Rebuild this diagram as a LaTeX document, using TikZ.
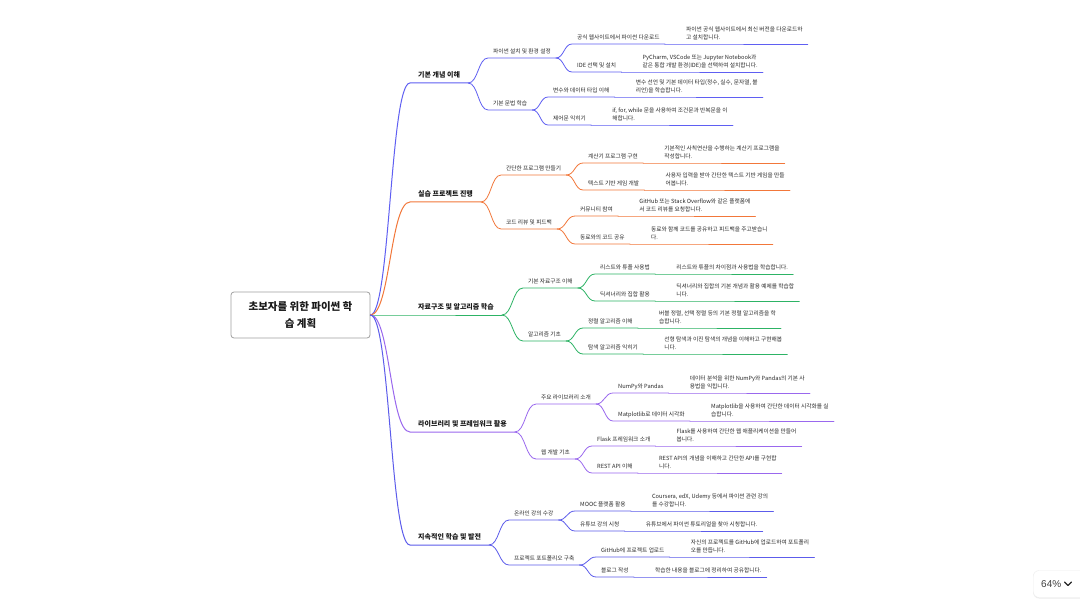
\documentclass[tikz,border=0pt]{standalone}
\usepackage{fontspec}
\setmainfont{Noto Sans CJK KR}
\newfontfamily\uifont{Liberation Sans}
\usepackage{xcolor}
\usepackage{tikz}
\usetikzlibrary{calc,shadows}

\definecolor{bluebr}{HTML}{5F5FF2}
\definecolor{orangebr}{HTML}{F2773A}
\definecolor{greenbr}{HTML}{2DB365}
\definecolor{purplebr}{HTML}{9A68EE}
\definecolor{indigobr}{HTML}{5C5CEB}
\definecolor{textgray}{HTML}{2A2A2A}

\begin{document}
\begin{tikzpicture}[x=1pt,y=-1pt,
	rootbox/.style={draw=gray!75, line width=0.8pt, rounded corners=3pt, fill=white, align=center, minimum width=139pt, minimum height=46pt, font=\fontsize{10.5}{17}\selectfont\bfseries, text=black!90},
	topic/.style={anchor=south west, inner xsep=8pt, inner ysep=4pt, text depth=1.2pt, font=\fontsize{7}{8}\selectfont\bfseries, text=black!90},
	subtopic/.style={anchor=south west, inner xsep=5pt, inner ysep=3.5pt, text depth=1pt, font=\fontsize{5.7}{7}\selectfont, text=textgray},
	leaf/.style={anchor=south west, inner xsep=5pt, inner ysep=3pt, text depth=1pt, align=left, font=\fontsize{5.7}{8.6}\selectfont, text=textgray},
	link/.style={line width=0.8pt, line cap=round}]
				\fill [white] (0,0) rectangle (1080,607);
				\useasboundingbox (0,0) rectangle (1080,607);
				
				\node [rootbox] (root) at (300.5,315) {초보자를 위한 파이썬 학\\습 계획};
				
				% main topics
				\node [topic] (n1) at (410,83) {기본 개념 이해};
				\node [topic] (n2) at (410,202) {실습 프로젝트 진행};
				\node [topic] (n3) at (410,315) {자료구조 및 알고리즘 학습};
				\node [topic] (n4) at (410,432) {라이브러리 및 프레임워크 활용};
				\node [topic] (n5) at (410,545) {지속적인 학습 및 발전};
				
				\node [subtopic] (n1a) at (488,58) {파이썬 설치 및 환경 설정};
				\node [subtopic] (n1b) at (488,110) {기본 문법 학습};
				\node [subtopic] (n2a) at (501,175) {간단한 프로그램 만들기};
				\node [subtopic] (n2b) at (501,229) {코드 리뷰 및 피드백};
				\node [subtopic] (n3a) at (523,288) {기본 자료구조 이해};
				\node [subtopic] (n3b) at (523,341) {알고리즘 기초};
				\node [subtopic] (n4a) at (536,404) {주요 라이브러리 소개};
				\node [subtopic] (n4b) at (536,459) {웹 개발 기초};
				\node [subtopic] (n5a) at (509,520) {온라인 강의 수강};
				\node [subtopic] (n5b) at (509,565) {프로젝트 포트폴리오 구축};
				
				\node [subtopic] (n1a1) at (572,44) {공식 웹사이트에서 파이썬 다운로드};
				\node [subtopic] (n1a2) at (572,72) {IDE 선택 및 설치};
				\node [subtopic] (n1b1) at (548,97) {변수와 데이터 타입 이해};
				\node [subtopic] (n1b2) at (548,125) {제어문 익히기};
				\node [subtopic] (n2a1) at (583,163) {계산기 프로그램 구현};
				\node [subtopic] (n2a2) at (583,190) {텍스트 기반 게임 개발};
				\node [subtopic] (n2b1) at (575,216) {커뮤니티 참여};
				\node [subtopic] (n2b2) at (575,244) {동료와의 코드 공유};
				\node [subtopic] (n3a1) at (595,274) {리스트와 튜플 사용법};
				\node [subtopic] (n3a2) at (595,301) {딕셔너리와 집합 활용};
				\node [subtopic] (n3b1) at (583,328) {정렬 알고리즘 이해};
				\node [subtopic] (n3b2) at (583,354) {탐색 알고리즘 익히기};
				\node [subtopic] (n4a1) at (613,393) {NumPy와 Pandas};
				\node [subtopic] (n4a2) at (613,421) {Matplotlib로 데이터 시각화};
				\node [subtopic] (n4b1) at (592,446) {Flask 프레임워크 소개};
				\node [subtopic] (n4b2) at (592,473) {REST API 이해};
				\node [subtopic] (n5a1) at (575,511) {MOOC 플랫폼 활용};
				\node [subtopic] (n5a2) at (575,531) {유튜브 강의 시청};
				\node [subtopic] (n5b1) at (596,557) {GitHub에 프로젝트 업로드};
				\node [subtopic] (n5b2) at (596,577) {블로그 작성};
				
				% details
				\node [leaf] (l1a1) at ([xshift=16pt]n1a1.south east) {파이썬 공식 웹사이트에서 최신 버전을 다운로드하\\고 설치합니다.};
				\node [leaf] (l1a2) at ([xshift=16pt]n1a2.south east) {PyCharm, VSCode 또는 Jupyter Notebook과\\같은 통합 개발 환경(IDE)을 선택하여 설치합니다.};
				\node [leaf] (l1b1) at ([xshift=16pt]n1b1.south east) {변수 선언 및 기본 데이터 타입(정수, 실수, 문자열, 불\\리언)을 학습합니다.};
				\node [leaf] (l1b2) at ([xshift=16pt]n1b2.south east) {if, for, while 문을 사용하여 조건문과 반복문을 이\\해합니다.};
				\node [leaf] (l2a1) at ([xshift=16pt]n2a1.south east) {기본적인 사칙연산을 수행하는 계산기 프로그램을\\작성합니다.};
				\node [leaf] (l2a2) at ([xshift=16pt]n2a2.south east) {사용자 입력을 받아 간단한 텍스트 기반 게임을 만들\\어봅니다.};
				\node [leaf] (l2b1) at ([xshift=16pt]n2b1.south east) {GitHub 또는 Stack Overflow와 같은 플랫폼에\\서 코드 리뷰를 요청합니다.};
				\node [leaf] (l2b2) at ([xshift=16pt]n2b2.south east) {동료와 함께 코드를 공유하고 피드백을 주고받습니\\다.};
				\node [leaf] (l3a1) at ([xshift=16pt]n3a1.south east) {리스트와 튜플의 차이점과 사용법을 학습합니다.};
				\node [leaf] (l3a2) at ([xshift=16pt]n3a2.south east) {딕셔너리와 집합의 기본 개념과 활용 예제를 학습합\\니다.};
				\node [leaf] (l3b1) at ([xshift=16pt]n3b1.south east) {버블 정렬, 선택 정렬 등의 기본 정렬 알고리즘을 학\\습합니다.};
				\node [leaf] (l3b2) at ([xshift=16pt]n3b2.south east) {선형 탐색과 이진 탐색의 개념을 이해하고 구현해봅\\니다.};
				\node [leaf] (l4a1) at ([xshift=16pt]n4a1.south east) {데이터 분석을 위한 NumPy와 Pandas의 기본 사\\용법을 익힙니다.};
				\node [leaf] (l4a2) at ([xshift=16pt]n4a2.south east) {Matplotlib을 사용하여 간단한 데이터 시각화를 실\\습합니다.};
				\node [leaf] (l4b1) at ([xshift=16pt]n4b1.south east) {Flask를 사용하여 간단한 웹 애플리케이션을 만들어\\봅니다.};
				\node [leaf] (l4b2) at ([xshift=16pt]n4b2.south east) {REST API의 개념을 이해하고 간단한 API를 구현합\\니다.};
				\node [leaf] (l5a1) at ([xshift=16pt]n5a1.south east) {Coursera, edX, Udemy 등에서 파이썬 관련 강의\\를 수강합니다.};
				\node [leaf] (l5a2) at ([xshift=16pt]n5a2.south east) {유튜브에서 파이썬 튜토리얼을 찾아 시청합니다.};
				\node [leaf] (l5b1) at ([xshift=16pt]n5b1.south east) {자신의 프로젝트를 GitHub에 업로드하여 포트폴리\\오를 만듭니다.};
				\node [leaf] (l5b2) at ([xshift=16pt]n5b2.south east) {학습한 내용을 블로그에 정리하여 공유합니다.};
				
				% links from the root
				\foreach \dst/\col in {n1/bluebr, n2/orangebr, n3/greenbr, n4/purplebr, n5/indigobr}
					\draw [link, \col, line width=1pt] let \p1=(root.east), \p2=(\dst.south west) in (\p1) .. controls ({(\x1+\x2)/2},\y1) and ({(\x1+\x2)/2},\y2) .. (\p2) -- (\dst.south east);
				
				\foreach \src/\dst in {n1/n1a, n1/n1b, n1a/n1a1, n1a/n1a2, n1b/n1b1, n1b/n1b2, n1a1/l1a1, n1a2/l1a2, n1b1/l1b1, n1b2/l1b2}
					\draw [link, bluebr] let \p1=(\src.south east), \p2=(\dst.south west) in (\p1) .. controls ({(\x1+\x2)/2},\y1) and ({(\x1+\x2)/2},\y2) .. (\p2) -- (\dst.south east);
				\foreach \src/\dst in {n2/n2a, n2/n2b, n2a/n2a1, n2a/n2a2, n2b/n2b1, n2b/n2b2, n2a1/l2a1, n2a2/l2a2, n2b1/l2b1, n2b2/l2b2}
					\draw [link, orangebr] let \p1=(\src.south east), \p2=(\dst.south west) in (\p1) .. controls ({(\x1+\x2)/2},\y1) and ({(\x1+\x2)/2},\y2) .. (\p2) -- (\dst.south east);
				\foreach \src/\dst in {n3/n3a, n3/n3b, n3a/n3a1, n3a/n3a2, n3b/n3b1, n3b/n3b2, n3a1/l3a1, n3a2/l3a2, n3b1/l3b1, n3b2/l3b2}
					\draw [link, greenbr] let \p1=(\src.south east), \p2=(\dst.south west) in (\p1) .. controls ({(\x1+\x2)/2},\y1) and ({(\x1+\x2)/2},\y2) .. (\p2) -- (\dst.south east);
				\foreach \src/\dst in {n4/n4a, n4/n4b, n4a/n4a1, n4a/n4a2, n4b/n4b1, n4b/n4b2, n4a1/l4a1, n4a2/l4a2, n4b1/l4b1, n4b2/l4b2}
					\draw [link, purplebr] let \p1=(\src.south east), \p2=(\dst.south west) in (\p1) .. controls ({(\x1+\x2)/2},\y1) and ({(\x1+\x2)/2},\y2) .. (\p2) -- (\dst.south east);
				\foreach \src/\dst in {n5/n5a, n5/n5b, n5a/n5a1, n5a/n5a2, n5b/n5b1, n5b/n5b2, n5a1/l5a1, n5a2/l5a2, n5b1/l5b1, n5b2/l5b2}
					\draw [link, indigobr] let \p1=(\src.south east), \p2=(\dst.south west) in (\p1) .. controls ({(\x1+\x2)/2},\y1) and ({(\x1+\x2)/2},\y2) .. (\p2) -- (\dst.south east);
				
				% zoom indicator
				\node [draw=black!7, fill=white, rounded corners=6pt, drop shadow={opacity=0.15, shadow xshift=0pt, shadow yshift=-1pt}, minimum width=60pt, minimum height=27pt, anchor=west, inner xsep=8pt, font=\uifont\fontsize{10}{12}\selectfont, text=black!75, text width=44pt] (zoombox) at (1033,584) {64\%};
				\draw [black!85, line width=1.2pt, line cap=round, line join=round] (1064.5,582) -- (1068,585.5) -- (1071.5,582);
\end{tikzpicture}
\end{document}
